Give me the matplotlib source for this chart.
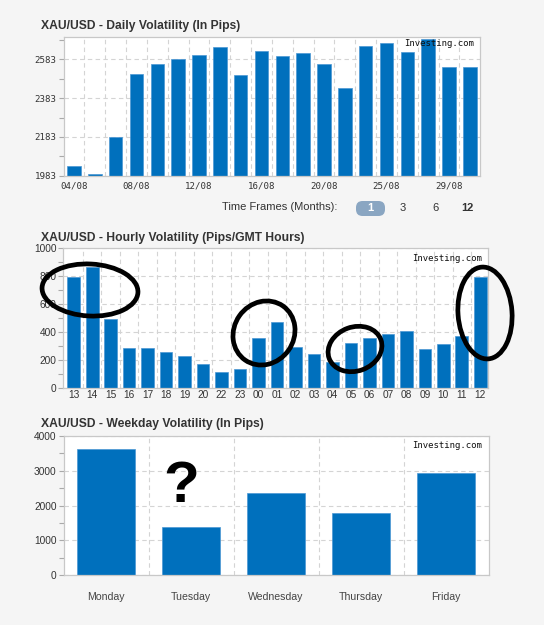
import matplotlib
matplotlib.use("Agg")
import matplotlib.pyplot as plt
from matplotlib.patches import Ellipse, FancyBboxPatch
from matplotlib.ticker import FixedLocator, MultipleLocator

# ---------------- data ----------------
daily_labels = ['04/08', '', '', '08/08', '', '', '12/08', '', '', '16/08', '', '',
                '20/08', '', '', '25/08', '', '', '29/08', '']
daily_values = [2035, 1990, 2181, 2507, 2557, 2583, 2607, 2648, 2501, 2626,
                2602, 2616, 2561, 2437, 2653, 2667, 2621, 2688, 2542, 2542]
daily_yticks = [1983, 2183, 2383, 2583]

hourly_labels = ['13', '14', '15', '16', '17', '18', '19', '20', '22', '23', '00', '01',
                 '02', '03', '04', '05', '06', '07', '08', '09', '10', '11', '12']
hourly_values = [797, 868, 490, 282, 287, 256, 230, 167, 115, 134, 356, 471,
                 294, 242, 187, 318, 356, 383, 409, 275, 311, 368, 797]

weekday_labels = ['Monday', 'Tuesday', 'Wednesday', 'Thursday', 'Friday']
weekday_values = [3626, 1381, 2350, 1784, 2945]

timeframes = ['1', '3', '6', '12']

# ---------------- style ----------------
W, H = 544, 625
BG = '#f5f5f5'
BAR = '#0070bd'
BAR_EDGE = '#4a96d4'
SPINE = '#c8c8c8'
GRID = '#d4d4d4'
TXT = '#333333'
SANS = ['Liberation Sans', 'DejaVu Sans']
MONO = ['DejaVu Sans Mono']

fig = plt.figure(figsize=(W / 100, H / 100), dpi=100, facecolor=BG)


def rect(l, t, r, b):
    return [l / W, 1 - b / H, (r - l) / W, (b - t) / H]


def px(x, y):
    return x / W, 1 - y / H


def style_axes(ax):
    ax.set_facecolor('white')
    for s in ax.spines.values():
        s.set_color(SPINE)
        s.set_linewidth(0.9)
    ax.set_axisbelow(True)
    ax.grid(True, which='minor', axis='x', color=GRID, linestyle=(0, (4, 3)), linewidth=0.8)
    ax.grid(True, which='major', axis='y', color=GRID, linestyle=(0, (4, 3)), linewidth=0.8)
    ax.tick_params(axis='y', which='both', direction='out', length=3.5, color='#aaaaaa', width=0.8)
    ax.tick_params(axis='x', which='both', length=0)


# ---------------- daily ----------------
ax1 = fig.add_axes(rect(63.5, 36.7, 480.3, 175.7))
style_axes(ax1)
x1 = list(range(len(daily_values)))
ax1.bar(x1, daily_values, width=0.65, color=BAR, edgecolor=BAR_EDGE, linewidth=0.5)
ax1.set_xlim(-0.5, len(daily_values) - 0.5)
ax1.set_ylim(1983, 2700)
ax1.set_yticks(daily_yticks)
ax1.yaxis.set_minor_locator(FixedLocator([t + 100 for t in daily_yticks]))
ax1.set_xticks(x1)
ax1.set_xticklabels(daily_labels)
ax1.xaxis.set_minor_locator(FixedLocator([i + 0.5 for i in x1[:-1]]))
for lab in ax1.get_yticklabels() + ax1.get_xticklabels():
    lab.set_fontfamily(MONO)
    lab.set_fontsize(6.6)
    lab.set_color(TXT)
ax1.tick_params(axis='y', pad=1.5)
ax1.tick_params(axis='x', pad=4)

# ---------------- hourly ----------------
ax2 = fig.add_axes(rect(63.3, 248.3, 488.3, 387.7))
style_axes(ax2)
x2 = list(range(len(hourly_values)))
ax2.bar(x2, hourly_values, width=0.69, color=BAR, edgecolor=BAR_EDGE, linewidth=0.5)
ax2.set_xlim(-0.56, len(hourly_values) - 0.57)
ax2.set_ylim(0, 1000)
ax2.yaxis.set_major_locator(MultipleLocator(200))
ax2.yaxis.set_minor_locator(MultipleLocator(100))
ax2.set_xticks(x2)
ax2.set_xticklabels(hourly_labels)
ax2.xaxis.set_minor_locator(FixedLocator([i + 0.5 for i in x2[:-1]]))
for lab in ax2.get_yticklabels() + ax2.get_xticklabels():
    lab.set_fontfamily(SANS)
    lab.set_fontsize(7.3)
    lab.set_color(TXT)
ax2.tick_params(axis='y', pad=1.5)
ax2.tick_params(axis='x', pad=2)

# ---------------- weekday ----------------
ax3 = fig.add_axes(rect(63.5, 436, 488.5, 575))
style_axes(ax3)
x3 = list(range(len(weekday_values)))
ax3.bar(x3, weekday_values, width=0.69, color=BAR, edgecolor=BAR_EDGE, linewidth=0.5)
ax3.set_xlim(-0.5, len(weekday_values) - 0.5)
ax3.set_ylim(0, 4000)
ax3.yaxis.set_major_locator(MultipleLocator(1000))
ax3.yaxis.set_minor_locator(MultipleLocator(500))
ax3.set_xticks(x3)
ax3.set_xticklabels(weekday_labels)
ax3.xaxis.set_minor_locator(FixedLocator([i + 0.5 for i in x3[:-1]]))
for lab in ax3.get_yticklabels():
    lab.set_fontfamily(SANS)
    lab.set_fontsize(7.3)
    lab.set_color(TXT)
for lab in ax3.get_xticklabels():
    lab.set_fontfamily(SANS)
    lab.set_fontsize(7.6)
    lab.set_color('#444444')
ax3.tick_params(axis='y', pad=1.5)
ax3.tick_params(axis='x', pad=12)

# ---------------- titles ----------------
titles = [('XAU/USD - Daily Volatility (In Pips)', 25.5),
          ('XAU/USD - Hourly Volatility (Pips/GMT Hours)', 237.7),
          ('XAU/USD - Weekday Volatility (In Pips)', 424.5)]
for t, y in titles:
    fig.text(*px(41, y), t, fontfamily=SANS, fontsize=8.7, fontweight='bold',
             color=TXT, ha='left', va='center')

# watermarks
for (x, y) in [(474, 44), (482, 258), (482, 446)]:
    fig.text(*px(x, y), 'Investing.com', fontfamily=MONO, fontsize=6.5,
             color='#111111', ha='right', va='center')

# ---------------- time frames ----------------
fig.text(*px(222, 207), 'Time Frames (Months):', fontfamily=SANS, fontsize=8,
         color=TXT, ha='left', va='center')
pill = FancyBboxPatch(px(356, 216), 29 / W, 15 / H,
                      boxstyle='round,pad=0,rounding_size=0.012',
                      transform=fig.transFigure, facecolor='#8aa6c2',
                      edgecolor='none', mutation_aspect=W / H)
fig.patches.append(pill)
tf_x = [370.5, 403, 435.7, 467.3]
for lab, x in zip(timeframes, tf_x):
    fig.text(*px(x, 208), lab, fontfamily=SANS, fontsize=8,
             fontweight='bold' if lab in ('1', '12') else 'normal',
             color='white' if lab == '1' else TXT, ha='center', va='center')

# ---------------- hand-drawn annotations ----------------
def ring(cx, cy, w, h, ang=0):
    e = Ellipse(((cx) / 100, (H - cy) / 100), w / 100, h / 100, angle=ang,
                transform=fig.dpi_scale_trans, fill=False, edgecolor='black',
                linewidth=3.4, zorder=20)
    fig.patches.append(e)

ring(90, 290, 96, 52, -3)
ring(264, 333, 60, 66, -35)
ring(355, 349, 55, 44, 20)
ring(485, 313, 54, 92, 4)

fig.text(*px(181, 487), '?', fontfamily=SANS, fontsize=42, fontweight='bold',
         color='black', ha='center', va='center', zorder=20)

fig.savefig('out.png', dpi=100, facecolor=BG)
